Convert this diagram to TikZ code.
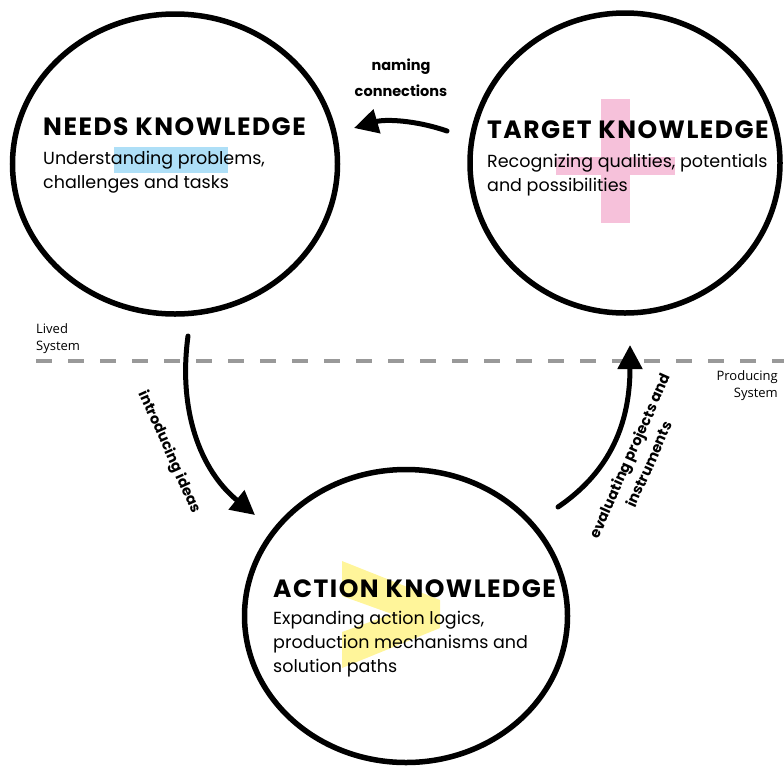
\documentclass[tikz,border=0pt]{standalone}
\usepackage{fontspec}
\setmainfont{Poppins}
\newfontfamily\sysfont{Open Sans}
\usetikzlibrary{positioning,shapes.geometric,arrows.meta}

\definecolor{hlblue}{HTML}{AEDFF7}
\definecolor{hlpink}{HTML}{F6C1DA}
\definecolor{hlyellow}{HTML}{FFF59A}
\definecolor{sysgray}{HTML}{999999}

\tikzset{
  know/.style={ellipse, draw, line width=5.5pt, inner sep=0pt},
  flow/.style={line width=5pt, line cap=round, -{Triangle[length=24pt,width=24pt]}},
  ktitle/.style={anchor=base west, inner sep=0pt,
    font=\fontsize{25}{29}\selectfont\bfseries\addfontfeatures{LetterSpace=6}},
  ktext/.style={anchor=base west, inner sep=0pt, align=left,
    font=\fontsize{17.5}{24}\selectfont},
  flowlabel/.style={inner sep=0pt, align=center,
    font=\fontsize{14.5}{21}\selectfont\bfseries},
  syslabel/.style={inner sep=0pt, font=\sysfont\fontsize{13}{17}\selectfont},
}

\begin{document}
\begin{tikzpicture}[x=1pt, y=-1pt]
  \useasboundingbox (0,0) rectangle (784,769);

  % highlights
  \fill[hlblue] (114,147) rectangle (228,173);
  \fill[hlpink] (601,99) rectangle (630,223);
  \fill[hlpink] (556,157) rectangle (675,175);
  \fill[hlyellow] (342,561) -- (440,600) -- (440,628) -- (342,668)
    -- (342,632) -- (392,614) -- (342,596) -- cycle;

  % system boundary
  \draw[sysgray, line width=4.5pt, dash pattern=on 16pt off 16pt] (36,361) -- (784,361);
  \node[syslabel, anchor=base west, align=left] (lived) at (36,350) {Lived\\System};
  \node[syslabel, anchor=base east, align=right] (producing) at (778,397) {Producing\\System};

  % knowledge circles
  \node[know, minimum width=325, minimum height=300] (needs) at (175,164) {};
  \node[know, minimum width=310, minimum height=300] (target) at (625,163) {};
  \node[know, minimum width=323, minimum height=293] (action) at (406,616) {};

  % texts (base = last line)
  \node[ktitle] (needsTitle) at (43,135) {NEEDS KNOWLEDGE};
  \node[ktext] (needsText) at (43,188) {Understanding problems,\\challenges and tasks};

  \node[ktitle] (targetTitle) at (487,138) {TARGET KNOWLEDGE};
  \node[ktext] (targetText) at (487,191) {Recognizing qualities, potentials\\and possibilities};

  \node[ktitle] (actionTitle) at (273,597) {ACTION KNOWLEDGE};
  \node[ktext] (actionText) at (273,672) {Expanding action logics,\\production mechanisms and\\solution paths};

  % flows
  \coordinate (namingStart) at (447,131);
  \coordinate (namingEnd) at (354,128);
  \coordinate (ideasStart) at (188,336);
  \coordinate (ideasEnd) at (255,515);
  \coordinate (evalStart) at (558,507);
  \coordinate (evalEnd) at (630,345);

  \draw[flow] (namingStart) .. controls (415,120) and (385,119) .. (namingEnd);
  \draw[flow] (ideasStart) .. controls (178,410) and (200,470) .. (ideasEnd);
  \draw[flow] (evalStart) .. controls (605,475) and (630,430) .. (evalEnd);

  \node[flowlabel] (namingLabel) at (401,78) {naming\\[5pt]connections};
  \node[flowlabel, rotate=-66] (ideasLabel) at (169,452) {introducing ideas};
  \node[flowlabel, rotate=66] (evalLabel) at (639,460) {evaluating projects and\\instruments};
\end{tikzpicture}
\end{document}
